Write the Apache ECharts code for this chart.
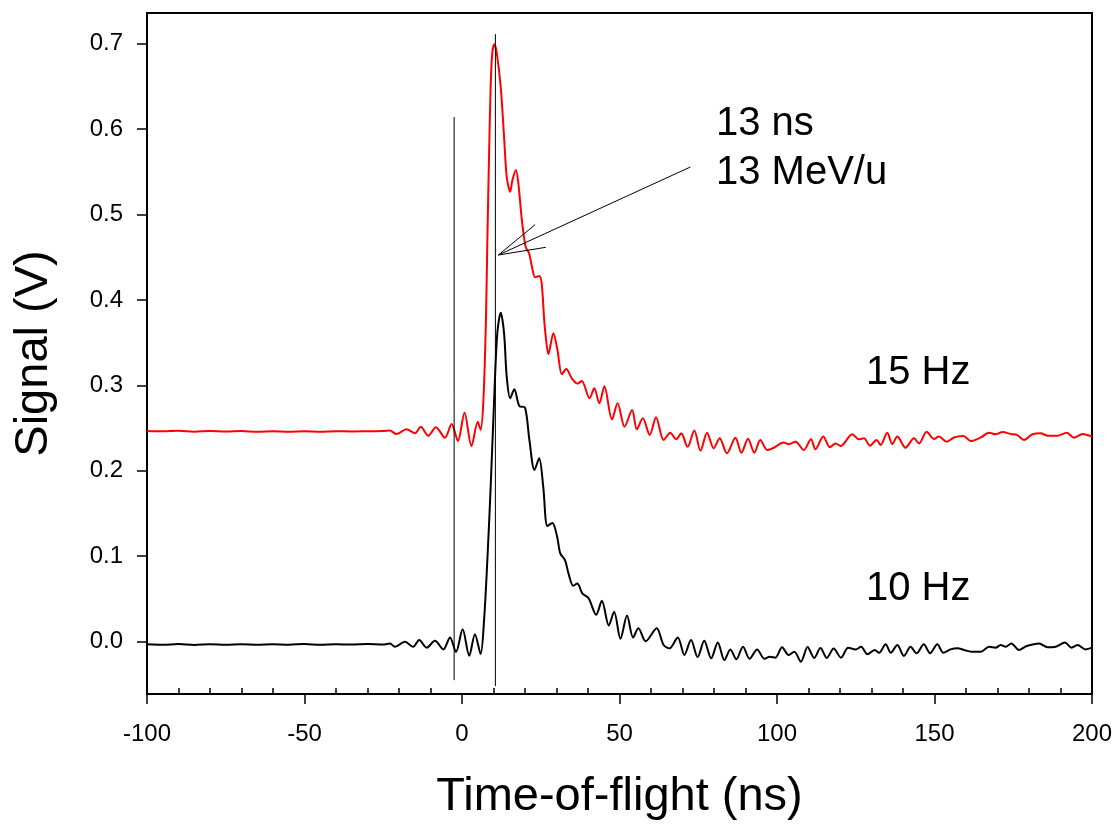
<!DOCTYPE html>
<html><head><meta charset="utf-8">
<script src="https://cdn.jsdelivr.net/npm/echarts@6/dist/echarts.min.js"></script>
<style>html,body{margin:0;padding:0;background:#fff}#c{width:1118px;height:828px}</style>
</head><body><div id="c"></div><script>
// 15 Hz trace (red)
const t15 = [-100,-95,-90,-85,-80,-75,-70,-65,-60,-55,-50,-45,-40,-35,-30,-25,
  -22.9,-20.8,-17.6,-14.9,-13.1,-10.7,-8.3,-5.4,-3.3,-1.3,0.8,3.0,5.0,5.9,6.8,7.6,8.05,8.6,9.1,9.6,10.3,11.0,
  12.3,13.35,14.2,15.3,16.0,17.1,17.9,19.0,20.2,21.3,22.2,23.2,24.5,25.3,26.1,26.7,27.4,29.0,30.3,31.7,33.1,
  34.9,36.7,38.0,40.5,42.0,43.6,45.2,47.6,49.4,51.6,54.0,55.5,57.4,59.6,61.6,64.0,66.1,68.0,69.6,71.6,73.75,
  75.7,77.8,79.9,81.8,84.1,86.8,88.7,90.8,92.8,94.7,96.9,99.0,102.1,103.7,105.9,108.5,110.8,112.2,114.7,116.8,
  118.6,120.2,123.9,126.0,127.6,129.5,131.6,132.9,135.0,136.6,138.2,140.8,143.5,145.1,147.5,149.8,151.4,153.9,
  156.2,159.2,161.5,164.7,167.3,169.4,171.6,174.2,176.3,178.4,181.1,183.7,185.9,189.0,192.0,194.3,197.0,200];
const v15 = [0.2466,0.2462,0.2468,0.2458,0.2465,0.2460,0.2466,0.2456,0.2462,0.2458,0.2464,0.2457,0.2463,0.2460,0.2462,0.2465,
  0.247,0.243,0.2485,0.244,0.2516,0.241,0.251,0.2387,0.2547,0.235,0.268,0.229,0.257,0.248,0.283,0.376,0.470,0.5715,0.649,0.6885,0.699,0.690,
  0.649,0.591,0.544,0.5265,0.540,0.552,0.536,0.4935,0.462,0.4545,0.439,0.4264,0.428,0.419,0.376,0.353,0.3366,0.361,0.3413,0.313,0.319,
  0.308,0.302,0.305,0.285,0.2965,0.279,0.299,0.260,0.279,0.2516,0.271,0.2485,0.2614,0.242,0.2626,0.236,0.2446,0.2368,0.2439,0.228,0.247,
  0.2235,0.2446,0.2263,0.238,0.2205,0.2387,0.2212,0.2375,0.2212,0.236,0.2243,0.227,0.233,0.231,0.234,0.2243,0.2368,0.2251,0.240,0.2275,
  0.232,0.229,0.2427,0.2368,0.238,0.2293,0.236,0.2302,0.2446,0.2313,0.240,0.227,0.238,0.232,0.2457,0.2372,0.240,0.234,
  0.239,0.2407,0.2348,0.239,0.2446,0.2427,0.2454,0.243,0.2418,0.236,0.2427,0.2439,0.241,0.241,0.2446,0.2387,0.243,0.240];
// 10 Hz trace (black)
const t10 = [-100,-95,-90,-85,-80,-75,-70,-65,-60,-55,-50,-45,-40,-35,-30,-25,
  -22.9,-21.3,-18.1,-15.5,-13.6,-11.2,-8.6,-5.9,-3.8,-1.9,0.2,2.3,4.1,5.9,7.0,8.05,9.1,10.2,11.2,12.3,13.35,14.2,
  15.3,16.6,18.2,20.0,21.4,23.0,24.5,25.8,27.1,28.7,30.2,31.2,32.7,33.8,35.3,36.6,38.2,40.2,42.6,44.4,46.6,48.3,
  50.3,52.4,54.3,56.0,58.3,61.8,64.0,65.9,68.5,70.6,72.7,74.8,76.9,79.1,81.2,83.3,85.2,87.1,89.2,91.3,93.7,96.0,
  97.7,99.5,101.6,103.7,105.5,107.6,109.7,111.8,113.8,115.8,118.0,120.3,122.6,125.0,126.7,128.7,131.0,132.4,134.5,
  136.1,138.2,140.3,142.4,144.3,146.6,148.6,150.9,152.8,155.1,157.3,159.4,161.7,164.7,167.3,169.4,171.0,172.6,174.4,
  176.8,179.3,183.2,185.9,188.5,191.4,193.5,195.4,198.0,200];
const v10 = [-0.003,-0.0035,-0.0028,-0.0038,-0.003,-0.0036,-0.0029,-0.0037,-0.0031,-0.0035,-0.0027,-0.0036,-0.003,-0.0034,-0.0028,-0.0032,
  -0.002,-0.006,0.0,-0.006,0.002,-0.007,0.001,-0.009,0.005,-0.012,0.0145,-0.0165,0.0087,-0.0144,0.025,0.0956,0.181,0.283,0.361,0.385,0.361,0.310,
  0.285,0.2953,0.2758,0.274,0.236,0.201,0.2146,0.181,0.1354,0.139,0.1229,0.1034,0.0956,0.080,0.0655,0.068,0.0566,0.0508,0.0316,0.0478,0.019,0.0351,
  0.0034,0.0306,0.005,0.0157,0.0005,0.0157,-0.0039,-0.0077,0.005,-0.0156,0.002,-0.018,0.001,-0.0195,-0.001,-0.0214,-0.009,-0.0206,-0.006,-0.020,-0.009,-0.020,
  -0.0175,-0.0187,-0.0066,-0.0156,-0.0117,-0.0234,-0.0063,-0.019,-0.0075,-0.019,-0.008,-0.0187,-0.007,-0.009,-0.006,-0.0148,-0.0097,-0.0129,-0.003,
  -0.0129,-0.0039,-0.0167,-0.006,-0.0136,-0.003,-0.0136,-0.003,-0.0129,-0.009,-0.0077,-0.0097,-0.0117,-0.0117,-0.006,-0.007,-0.0039,-0.006,-0.002,
  -0.0097,-0.005,-0.002,-0.0066,-0.006,-0.001,-0.007,-0.0039,-0.009,-0.007];
// Axis ticks
const yTickValues = [0.0,0.1,0.2,0.3,0.4,0.5,0.6,0.7];
const xMin = -100, xMax = 200, xStep = 50;
const yMin = -0.0612, yMax = 0.7357;
// Vertical markers
const markerX = [-2.5, 10.6];
const markerLow = [-0.045, -0.052];
const markerHigh = [0.614, 0.711];
// Arrow (data coordinates)
const arrowTail = [72.5, 0.5555];
const arrowTip = [11.55, 0.4525];
const arrowBarbA = [23.2, 0.488];
const arrowBarbB = [26.6, 0.4615];
// Annotation texts
const annotTexts = ['13 ns', '13 MeV/u', '15 Hz', '10 Hz'];

const zip = (a, b) => a.map((x, i) => [x, b[i]]);
const FONT = '"Liberation Sans", Arial, sans-serif';

const chart = echarts.init(document.getElementById('c'), null, {renderer: 'canvas'});
const markerSeries = markerX.map((x, i) => ({
  type: 'line', data: [[x, markerLow[i]], [x, markerHigh[i]]], symbol: 'none', silent: true, z: 5,
  lineStyle: {color: '#000', width: 1}
}));
chart.setOption({
  animation: false,
  backgroundColor: '#fff',
  grid: {left: 147, right: 26, top: 13, bottom: 134, show: true, borderColor: '#000', borderWidth: 2, containLabel: false},
  xAxis: [{
    type: 'value', min: xMin, max: xMax, interval: xStep, position: 'bottom',
    name: 'Time-of-flight (ns)', nameLocation: 'middle', nameGap: 80,
    nameTextStyle: {fontFamily: FONT, fontSize: 47, color: '#000'},
    axisLine: {show: true, onZero: false, lineStyle: {color: '#000', width: 2}},
    axisTick: {show: true, inside: false, length: 10, lineStyle: {color: '#000', width: 1.5}},
    axisLabel: {fontFamily: FONT, fontSize: 24, color: '#000', margin: 28},
    splitLine: {show: false}
  }, {
    type: 'value', min: xMin, max: xMax, interval: xStep, position: 'bottom', offset: 0,
    axisLine: {show: false, onZero: false}, axisLabel: {show: false},
    axisTick: {show: false, inside: true},
    minorTick: {show: true, splitNumber: 5, length: 6, lineStyle: {color: '#000', width: 1.5}},
    splitLine: {show: false}, minorSplitLine: {show: false}
  }],
  yAxis: {
    type: 'value', min: yMin, max: yMax,
    name: 'Signal (V)', nameLocation: 'middle', nameGap: 89,
    nameTextStyle: {fontFamily: FONT, fontSize: 47, color: '#000'},
    axisLine: {show: true, onZero: false, lineStyle: {color: '#000', width: 2}},
    axisTick: {show: true, inside: false, length: 10, customValues: yTickValues, lineStyle: {color: '#000', width: 1.5}},
    axisLabel: {fontFamily: FONT, fontSize: 24, color: '#000', margin: 24, customValues: yTickValues,
      formatter: v => Number(v).toFixed(1)},
    splitLine: {show: false}
  },
  series: [
    {type: 'line', name: '15 Hz', data: zip(t15, v15), symbol: 'none', smooth: 0.3,
      lineStyle: {color: '#ff0000', width: 2}, z: 3},
    {type: 'line', name: '10 Hz', data: zip(t10, v10), symbol: 'none', smooth: 0.3,
      lineStyle: {color: '#000000', width: 2}, z: 3},
    ...markerSeries,
    {type: 'line', data: [arrowTail, arrowTip], symbol: 'none', silent: true, z: 5,
      lineStyle: {color: '#000', width: 1}},
    {type: 'line', data: [arrowBarbA, arrowTip, arrowBarbB], symbol: 'none', silent: true, z: 5,
      lineStyle: {color: '#000', width: 1}}
  ],
  graphic: [
    {type: 'text', x: 716, y: 124, style: {text: annotTexts[0], font: '40px ' + FONT, fill: '#000', verticalAlign: 'middle'}},
    {type: 'text', x: 716, y: 173, style: {text: annotTexts[1], font: '40px ' + FONT, fill: '#000', verticalAlign: 'middle'}},
    {type: 'text', x: 866, y: 373, style: {text: annotTexts[2], font: '40px ' + FONT, fill: '#000', verticalAlign: 'middle'}},
    {type: 'text', x: 866, y: 589, style: {text: annotTexts[3], font: '40px ' + FONT, fill: '#000', verticalAlign: 'middle'}}
  ]
});
</script></body></html>
